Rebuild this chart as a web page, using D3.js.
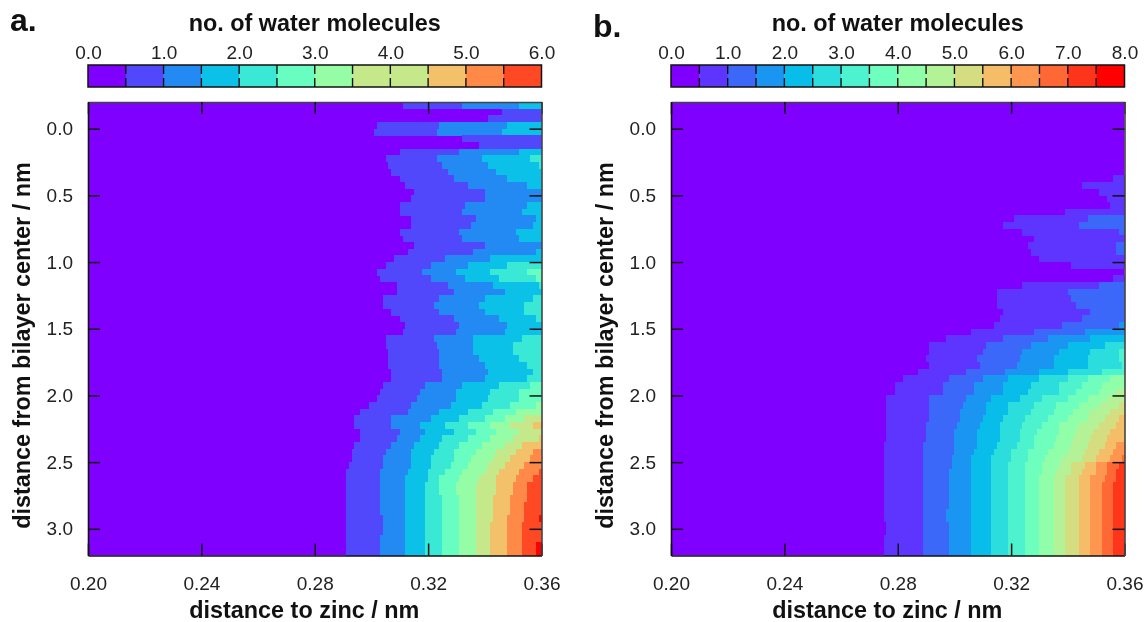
<!DOCTYPE html>
<html>
<head>
<meta charset="utf-8">
<script src="https://cdn.jsdelivr.net/npm/d3@7"></script>
<style>
  body { margin: 0; background: #fff; }
  svg { display: block; filter: blur(0.35px); }
  text { font-family: "Liberation Sans", sans-serif; fill: #1a1a1a; }
  .titre { font-weight: bold; font-size: 23.4px; fill: #111; }
  .lettre { font-weight: bold; font-size: 32px; fill: #111; }
  .tick text { font-size: 19px; font-family: "Liberation Sans", sans-serif; fill: #222; }
</style>
</head>
<body>
<script>
//Axes
let ticksX = [0.20, 0.24, 0.28, 0.32, 0.36];
let ticksY = [0.0, 0.5, 1.0, 1.5, 2.0, 2.5, 3.0];
let titreBarre = "no. of water molecules";
let titreX = "distance to zinc / nm";
let titreY = "distance from bilayer center / nm";

//Couleurs de chaque niveau (0.5 molecule par niveau)
let couleursA = ["#8000ff", "#5148fc", "#238af4", "#0cc1e8", "#3ae8d6", "#68fdc1", "#96fda7", "#c5e88a", "#f3c16a", "#ff8a48", "#ff4824", "#ff0000"];
let barreA = ["#8000ff", "#5148fc", "#238af4", "#0cc1e8", "#3ae8d6", "#68fdc1", "#96fda7", "#c5e88a", "#c5e88a", "#f3c16a", "#ff8a48", "#ff4824"];
let couleursB = ["#8000ff", "#5d35fe", "#3b68f9", "#1a96f2", "#08bde9", "#2bdddd", "#4df2ce", "#6efebd", "#91feaa", "#b3f296", "#d4dd80", "#f6bd68", "#ff964f", "#ff6835", "#ff351b", "#ff0000"];

//Une ligne par tranche de 0.05 nm (de -0.2 a 3.2) : distance (pm) ou l'on passe au niveau suivant
let lignesA = [
  [311,332,352], [346], [341], [302,324,348], [301,323,346], [332], [338], [310,331,352],
  [305,323,339,356], [306,325,341,359], [307,327,344], [310,329,348], [312,334,355], [315,340], [314,340], [310,333,355],
  [310,332,353], [314,337,358], [314,335,357], [310,331,351], [311,332,352], [315,340], [313,336,358], [308,326,342],
  [305,321,334,348], [302,318,330,342,355], [303,321,333,345,358], [309,327,343,359], [309,329,347], [304,324,340,357], [304,322,338,354], [307,324,340,354],
  [310,329,345,358], [312,331,348], [311,330,347], [305,322,336,353], [305,323,336,350], [306,324,336,350], [306,324,338,352], [306,324,340,355],
  [307,325,341,357], [307,325,340,355], [304,319,332,345,356], [303,317,330,342,352], [302,316,330,341,352], [299,314,328,339,349,358], [296,313,324,334,343,351], [294,307,321,331,340,347,354],
  [294,307,317,326,334,342,349,357], [296,310,319,329,337,344,352], [296,309,317,325,334,342,350,359], [294,307,315,324,331,339,347,353], [293,305,314,322,329,337,344,351,357], [293,304,314,321,329,335,343,349,356], [292,304,314,321,328,334,341,347,354], [291,303,313,320,326,332,340,345,352,359],
  [291,303,312,320,324,331,338,344,351,357], [291,303,312,319,324,330,337,344,350,355], [291,303,312,319,324,330,337,344,350,355], [291,303,312,319,325,331,337,343,349,355], [291,303,312,319,325,331,337,343,349,354], [291,303,312,319,325,331,337,343,349,354], [291,304,312,319,325,331,337,343,348,354,359], [291,304,312,319,325,331,337,342,348,353],
  [291,304,312,319,325,331,337,342,348,353], [291,303,312,319,325,331,337,342,348,353], [291,303,312,319,325,331,337,342,348,353,358], [291,303,312,319,325,331,337,342,348,353,358]
];
let lignesB = [
  [], [], [], [], [], [], [], [], [], [], [], [356],
  [345], [351], [354], [355], [339], [321,347], [317,344], [324,358], [328], [326,357], [327,357], [330],
  [341], [], [356], [324,351], [315,340], [315,341], [315,343], [317,348], [316,345], [314,338,358], [306,328,346], [297,317,333,348],
  [291,311,327,340,353], [291,310,324,337,348,358], [290,308,323,335,347,358], [291,309,322,335,347,359], [287,304,318,330,340,352], [282,298,310,319,330,340,347,355], [279,296,307,317,327,337,345,352], [279,296,307,317,326,337,343,351,357],
  [276,291,304,313,323,331,340,347,354], [276,291,303,311,319,328,336,344,351,358], [276,291,302,311,319,327,335,342,348,355], [276,291,302,310,317,325,333,340,347,353,358], [276,290,301,309,316,324,331,337,344,351,357], [276,290,300,308,316,323,329,337,343,349,355], [276,290,300,308,316,323,328,336,342,348,354], [275,289,300,308,315,322,328,335,341,347,353,357],
  [275,289,300,307,314,320,326,333,340,346,351,356], [275,289,299,306,313,320,326,332,338,345,350,355,359], [275,289,299,306,313,319,325,331,337,341,346,350,354,358], [275,289,298,306,313,319,325,331,336,341,345,350,354,357], [275,289,298,306,313,319,325,330,335,339,344,348,353,357], [275,289,298,306,313,319,325,330,335,339,344,348,352,356], [275,289,298,306,313,319,325,330,335,339,344,348,352,356], [275,289,298,306,313,319,325,330,335,339,344,348,352,356],
  [275,289,298,306,313,319,325,330,335,339,344,348,352,356], [275,289,297,306,313,319,325,330,335,339,344,348,352,356], [275,289,297,306,313,319,325,330,335,339,344,348,352,356], [276,289,298,306,313,319,325,330,335,339,344,348,352,356], [276,289,298,306,313,319,325,330,335,339,344,348,352,356], [275,289,298,306,313,319,325,330,335,339,344,348,352,356], [275,289,298,306,313,319,325,330,335,339,344,348,352,356], [275,289,298,306,313,319,325,330,335,339,344,348,352,356]
];

let largeur = 1147, hauteur = 622;
let cote = 453.5;

let svg = d3.select("body").append("svg")
  .attr("width", largeur)
  .attr("height", hauteur);

function panneau(lettre, lettreX, lettreY, origineX, lignes, couleurs, barre, maxBarre) {
  let g = svg.append("g").attr("transform", "translate(" + origineX + ",102)");

  let echelleX = d3.scaleLinear().domain([0.20, 0.36]).range([0, cote]);
  let echelleY = d3.scaleLinear().domain([-0.2, 3.2]).range([0, cote]);
  let echelleBarre = d3.scaleLinear().domain([0, maxBarre]).range([0, cote]);
  let hauteurLigne = echelleY(0.05) - echelleY(0);

  //Le fond : niveau zero
  g.append("rect")
    .attr("width", cote)
    .attr("height", cote)
    .attr("fill", couleurs[0]);

  //Chaque ligne : on empile les niveaux de gauche a droite
  lignes.forEach(function(ligne, i) {
    g.append("g").selectAll("rect").data(ligne).enter()
      .append("rect")
      .attr("x", d => echelleX(d / 1000))
      .attr("y", echelleY(-0.2 + i * 0.05))
      .attr("width", d => cote - echelleX(d / 1000))
      .attr("height", hauteurLigne + 0.3)
      .attr("shape-rendering", "crispEdges")
      .attr("fill", (d, j) => couleurs[j + 1]);
  });

  //Axes avec graduations interieures sur les quatre cotes
  let axes = [
    d3.axisBottom(echelleX).tickValues(ticksX).tickSize(-12).tickPadding(21).tickFormat(d3.format(".2f")),
    d3.axisTop(echelleX).tickValues(ticksX).tickSize(-12).tickFormat(""),
    d3.axisLeft(echelleY).tickValues(ticksY).tickSize(-12).tickPadding(15).tickFormat(d3.format(".1f")),
    d3.axisRight(echelleY).tickValues(ticksY).tickSize(-12).tickFormat("")
  ];
  let decalages = [[0, cote], [0, 0], [0, 0], [cote, 0]];
  axes.forEach(function(axe, i) {
    let a = g.append("g")
      .attr("transform", "translate(" + decalages[i][0] + "," + decalages[i][1] + ")")
      .call(axe.tickSizeOuter(0));
    a.selectAll(".tick line").attr("stroke", "#111").attr("stroke-width", 1.5);
    a.select(".domain").attr("stroke", i < 1 || i == 2 ? "#111" : "#444").attr("stroke-width", 1.6);
  });

  //Barre de couleurs
  let gb = svg.append("g").attr("transform", "translate(" + origineX + ",65)");
  gb.selectAll("rect").data(barre).enter()
    .append("rect")
    .attr("x", (d, i) => echelleBarre(i * maxBarre / barre.length))
    .attr("y", 0)
    .attr("width", cote / barre.length + 0.3)
    .attr("height", 22)
    .attr("fill", d => d);

  let pas = d3.range(0.5, maxBarre, 0.5);
  gb.append("g").selectAll("line").data(pas).enter()
    .append("line")
    .attr("x1", d => echelleBarre(d)).attr("x2", d => echelleBarre(d))
    .attr("y1", 0).attr("y2", 9)
    .attr("stroke", "#111").attr("stroke-width", 1.4);
  gb.append("g").selectAll("line").data(pas).enter()
    .append("line")
    .attr("x1", d => echelleBarre(d)).attr("x2", d => echelleBarre(d))
    .attr("y1", 13).attr("y2", 22)
    .attr("stroke", "#111").attr("stroke-width", 1.4);
  gb.append("rect")
    .attr("width", cote).attr("height", 22)
    .attr("fill", "none").attr("stroke", "#111").attr("stroke-width", 1.5);

  let axeBarre = gb.append("g")
    .call(d3.axisTop(echelleBarre).tickValues(d3.range(0, maxBarre + 1)).tickSize(0).tickPadding(6).tickFormat(d3.format(".1f")));
  axeBarre.select(".domain").remove();

  //Titres
  svg.append("text").attr("class", "titre")
    .attr("x", origineX + cote / 2).attr("y", 31)
    .attr("text-anchor", "middle").text(titreBarre);
  svg.append("text").attr("class", "titre")
    .attr("x", origineX + cote / 2 - 10.5).attr("y", 618)
    .attr("text-anchor", "middle").text(titreX);
  svg.append("text").attr("class", "titre")
    .attr("transform", "translate(" + (origineX - 58.5) + ",345.5) rotate(-90)")
    .attr("text-anchor", "middle").text(titreY);
  svg.append("text").attr("class", "lettre")
    .attr("x", lettreX).attr("y", lettreY).text(lettre);
}

panneau("a.", 10, 31, 88, lignesA, couleursA, barreA, 6);
panneau("b.", 593, 37, 671, lignesB, couleursB, couleursB, 8);
</script>
</body>
</html>
